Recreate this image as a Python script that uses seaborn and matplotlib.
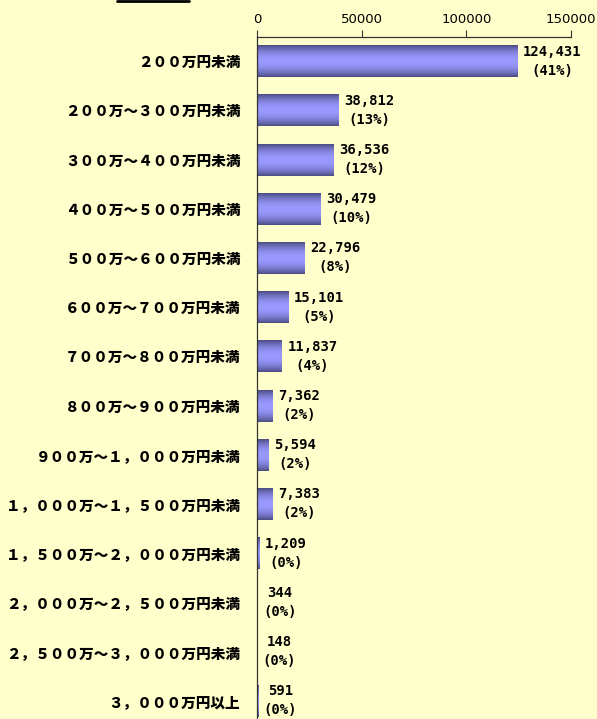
import numpy as np
import pandas as pd
import matplotlib
matplotlib.use("Agg")
import matplotlib.pyplot as plt
import seaborn as sns

# Data
categories = ["２００万円未満", "２００万～３００万円未満", "３００万～４００万円未満",
              "４００万～５００万円未満", "５００万～６００万円未満", "６００万～７００万円未満",
              "７００万～８００万円未満", "８００万～９００万円未満", "９００万～１，０００万円未満",
              "１，０００万～１，５００万円未満", "１，５００万～２，０００万円未満",
              "２，０００万～２，５００万円未満", "２，５００万～３，０００万円未満",
              "３，０００万円以上"]
counts = [124431, 38812, 36536, 30479, 22796, 15101, 11837, 7362, 5594, 7383, 1209, 344, 148, 591]
shares = [41, 13, 12, 10, 8, 5, 4, 2, 2, 2, 0, 0, 0, 0]
xticks = [0, 50000, 100000, 150000]

df = pd.DataFrame({"category": categories, "count": counts, "share": shares})

sns.set_style("white")
plt.rcParams["font.family"] = ["Noto Sans CJK JP", "DejaVu Sans"]
plt.rcParams["text.color"] = "black"
plt.rcParams["xtick.color"] = "black"
plt.rcParams["ytick.color"] = "black"

bg = "#ffffcc"
fig = plt.figure(figsize=(5.97, 7.19), dpi=100, facecolor=bg)
ax = fig.add_axes([257 / 597, 0.0, (571 - 257) / 597, 1 - 37 / 719])
ax.set_facecolor(bg)

sns.barplot(data=df, x="count", y="category", orient="h", width=0.65,
            color="#9999ff", ax=ax)

# vertical gradient fill for each bar
dark = np.array([0.29, 0.29, 0.50])
light = np.array([0.60, 0.60, 1.00])
t = np.linspace(0, 1, 64)
w = np.abs(np.sin(np.pi * t)) ** 0.8
grad = dark[None, :] + (light - dark)[None, :] * w[:, None]
grad = grad[:, None, :]
for p in ax.patches:
    x0, y0 = p.get_x(), p.get_y()
    bw, bh = p.get_width(), p.get_height()
    p.set_facecolor("none")
    p.set_edgecolor("none")
    ax.imshow(grad, extent=[x0, x0 + bw, y0 + bh, y0], aspect="auto", zorder=2,
              interpolation="bilinear")

ax.set_xlim(0, 150000)
ax.set_ylim(13.37, -0.49)
ax.set_xlabel("")
ax.set_ylabel("")

ax.xaxis.tick_top()
ax.set_xticks(xticks)
ax.set_xticklabels([str(v) for v in xticks], fontsize=9.5, family="DejaVu Sans")
ax.tick_params(axis="x", direction="out", length=5, width=0.8, color="#333333", pad=3)
ax.tick_params(axis="y", length=0, pad=12)
for lab in ax.get_yticklabels():
    lab.set_fontsize(10.5)
    lab.set_fontweight("black")

for s in ["right", "bottom"]:
    ax.spines[s].set_visible(False)
for s in ["left", "top"]:
    ax.spines[s].set_color("#333333")
    ax.spines[s].set_linewidth(0.9)

for i, (c, s) in enumerate(zip(counts, shares)):
    ax.annotate(f"{c:,}\n({s}%)", (c, i), xytext=(4, 0), textcoords="offset points",
                ha="left", va="center", multialignment="center", linespacing=1.45,
                fontsize=10, fontweight="bold", family="DejaVu Sans Mono", color="black")

fig.add_artist(plt.Line2D([117 / 597, 189 / 597], [1 - 1 / 719, 1 - 1 / 719],
                          color="black", lw=2))

fig.savefig("out.png", dpi=100, facecolor=bg)
